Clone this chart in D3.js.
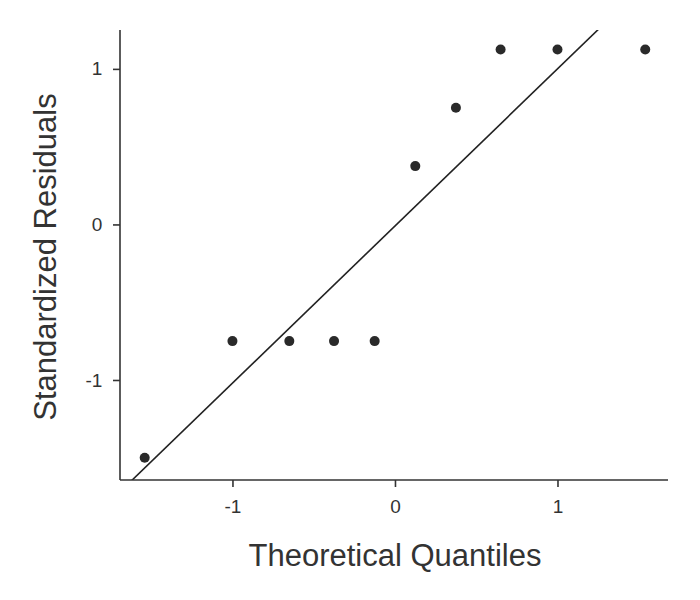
<!DOCTYPE html>
<html>
<head>
<meta charset="utf-8" />
<script src="https://d3js.org/d3.v7.min.js"></script>
<style>
body { margin: 0; background: #fff; }
text { font-family: "Liberation Sans", Arial, sans-serif; fill: #333; }
</style>
</head>
<body>
<svg id="chart" width="700" height="600"></svg>
<script>
// theoretical quantiles vs standardized residuals
var theoretical = [-1.54, -1.0, -0.65, -0.375, -0.125, 0.125, 0.375, 0.65, 1.0, 1.54];
var residuals = [-1.5, -0.75, -0.75, -0.75, -0.75, 0.375, 0.75, 1.125, 1.125, 1.125];
var xTicks = [-1, 0, 1];
var yTicks = [-1, 0, 1];
var refLine = { slope: 1.01, intercept: -0.01 };

var svg = d3.select('#chart');
var x = d3.scaleLinear().domain([-1.692, 1.68]).range([120, 668]);
var y = d3.scaleLinear().domain([-1.643, 1.25]).range([480, 30]);
var fmt = function(d) { return String(d); };

svg.append('defs').append('clipPath').attr('id', 'clip')
  .append('rect').attr('x', 120).attr('y', 30).attr('width', 548).attr('height', 450);

var xd = x.domain();
svg.append('line').attr('clip-path', 'url(#clip)')
  .attr('x1', x(xd[0])).attr('y1', y(refLine.slope * xd[0] + refLine.intercept))
  .attr('x2', x(xd[1])).attr('y2', y(refLine.slope * xd[1] + refLine.intercept))
  .attr('stroke', '#222').attr('stroke-width', 1.6);

svg.selectAll('circle').data(theoretical).enter().append('circle')
  .attr('cx', function(d) { return x(d); })
  .attr('cy', function(d, i) { return y(residuals[i]); })
  .attr('r', 5).attr('fill', '#2a2a2a');

var xAxis = svg.append('g').attr('transform', 'translate(0,480)')
  .call(d3.axisBottom(x).tickValues(xTicks).tickSize(7).tickFormat(fmt));
var yAxis = svg.append('g').attr('transform', 'translate(120,0)')
  .call(d3.axisLeft(y).tickValues(yTicks).tickSize(7).tickFormat(fmt));
[xAxis, yAxis].forEach(function(a) {
  a.attr('font-size', 19).attr('font-family', null);
  a.selectAll('path,line').attr('stroke', '#333').attr('stroke-width', 1.6);
  a.selectAll('text').attr('fill', '#333');
  a.select('.domain').attr('d', null);
});
xAxis.selectAll('text').attr('dy', '1.2em');
yAxis.selectAll('text').attr('dx', '-0.4em');
svg.append('line').attr('x1', 120).attr('x2', 668).attr('y1', 480).attr('y2', 480).attr('stroke', '#333').attr('stroke-width', 1.6);
svg.append('line').attr('x1', 120).attr('x2', 120).attr('y1', 30).attr('y2', 480).attr('stroke', '#333').attr('stroke-width', 1.6);

svg.append('text').attr('x', 395).attr('y', 566).attr('text-anchor', 'middle')
  .style('font-size', '31px').text('Theoretical Quantiles');
svg.append('text').attr('transform', 'translate(56,257) rotate(-90)').attr('text-anchor', 'middle')
  .style('font-size', '31px').text('Standardized Residuals');
</script>
</body>
</html>
